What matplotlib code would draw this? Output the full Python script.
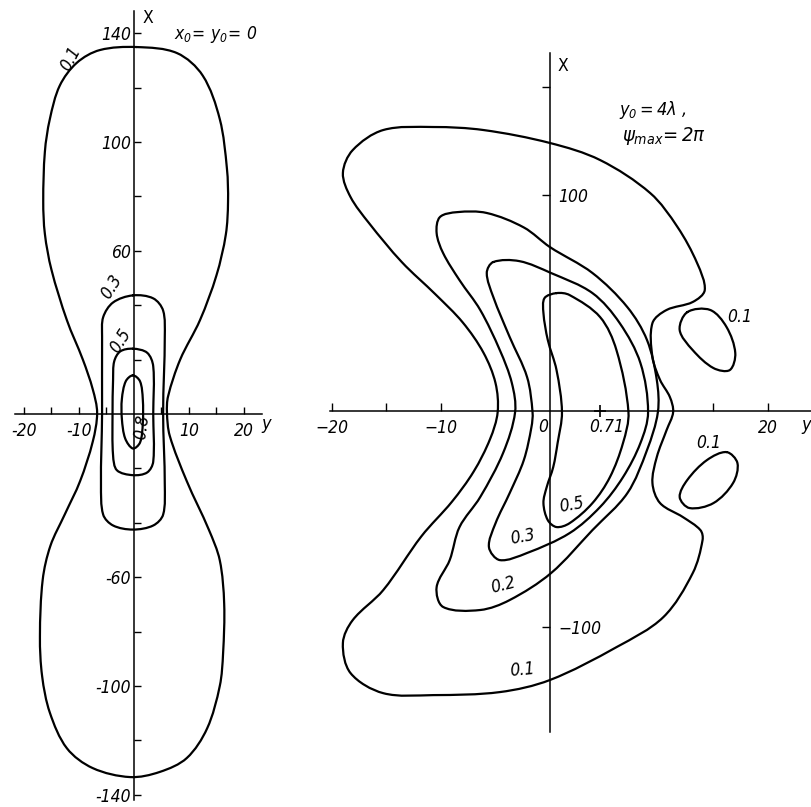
import numpy as np
import matplotlib
matplotlib.use('Agg')
import matplotlib.pyplot as plt
from matplotlib.path import Path
from matplotlib.patches import PathPatch

plt.rcParams['font.family'] = ['DejaVu Sans']
plt.rcParams['font.style'] = 'italic'
plt.rcParams['font.stretch'] = 'condensed'
plt.rcParams['mathtext.fontset'] = 'custom'
plt.rcParams['mathtext.rm'] = 'DejaVu Sans'
plt.rcParams['mathtext.it'] = 'DejaVu Sans:italic'

# ---- left panel, x0 = y0 = 0: contour outlines as (y, x) pairs ----
left_01 = [(0.5, 134.9), (-6.2, 133.8), (-10.4, 129.1), (-13.5, 120.7), (-15.3, 108.4),
           (-16.2, 96.4), (-16.5, 78.2), (-16.2, 66.2), (-15.0, 53.0), (-12.2, 34.5),
           (-9.3, 20.0), (-7.5, 9.1), (-6.7, 0.4), (-7.5, -10.2), (-9.8, -24.7),
           (-12.6, -37.0), (-15.2, -48.5), (-16.6, -61.0), (-17.1, -81.8), (-16.7, -96.4),
           (-15.3, -109.8), (-12.2, -122.9), (-7.5, -130.2), (-0.7, -133.5), (4.7, -131.6),
           (9.6, -126.5), (13.3, -115.6), (15.6, -100.0), (16.2, -88.0), (16.4, -69.8),
           (15.6, -53.8), (13.6, -42.5), (9.6, -24.7), (6.5, -8.0), (6.0, 0.4),
           (6.2, 6.5), (8.4, 20.0), (12.0, 34.5), (15.0, 51.0), (16.7, 66.0),
           (17.1, 78.0), (16.9, 90.2), (15.6, 108.4), (12.5, 124.4), (7.8, 132.7)]
left_03 = [(-0.2, 43.6), (-3.8, 41.0), (-5.6, 35.6), (-5.8, 28.4), (-5.8, 0.0),
           (-6.0, -26.0), (-5.6, -37.0), (-3.8, -41.0), (-0.2, -42.5), (3.5, -41.0),
           (5.3, -37.0), (5.6, -26.0), (5.3, 0.4), (5.6, 28.4), (5.3, 38.0), (3.5, 42.5)]
left_05 = [(-0.2, 24.0), (-2.5, 23.0), (-3.6, 19.3), (-3.8, 12.7), (-3.9, 0.0),
           (-3.8, -15.3), (-3.1, -20.7), (-0.2, -22.5), (2.4, -21.5), (3.5, -17.5),
           (3.5, 0.0), (3.5, 17.5), (2.4, 22.5)]
left_08 = [(-0.2, 14.2), (-1.5, 12.0), (-2.2, 5.5), (-2.2, -1.8), (-1.6, -9.0),
           (-0.2, -12.7), (1.1, -10.5), (1.6, -3.6), (1.6, 5.5), (1.1, 12.0)]
left_levels = ['0.1', '0.3', '0.5', '0.8']
# label position (y, x) and text angle
left_label_pos = [(-11.6, 130.5), (-4.0, 46.9), (-2.5, 26.9), (1.4, -4.6)]
left_label_rot = [62, 58, 58, 82]

# ---- right panel, y0 = 4 lambda, psi_max = 2 pi ----
right_01 = [(0.0, 124.1), (-6.1, 130.1), (-10.7, 131.5), (-15.3, 130.1), (-18.1, 120.8),
            (-19.0, 110.2), (-18.3, 99.1), (-16.6, 87.0), (-13.6, 69.0),
            (-10.5, 54.0), (-8.0, 41.0), (-6.1, 27.0), (-5.0, 13.0), (-4.8, -0.5),
            (-5.5, -13.0), (-7.0, -28.0), (-9.0, -42.0), (-11.8, -58.0),
            (-15.3, -82.9), (-18.1, -96.8), (-19.0, -107.4), (-18.3, -121.3), (-15.3, -130.6),
            (-10.7, -131.5), (-4.6, -130.1), (0.0, -124.5), (6.1, -109.3), (10.4, -95.4),
            (13.1, -75.0), (14.0, -59.7), (13.8, -55.1), (12.2, -49.1), (10.1, -42.6),
            (9.4, -33.3), (9.8, -21.3), (10.7, -8.8), (11.3, -0.5), (11.0, 6.5),
            (10.1, 14.4), (9.4, 25.0), (9.4, 40.7), (10.7, 46.8), (13.1, 50.5),
            (14.2, 56.0), (13.5, 68.5), (11.7, 85.2), (9.2, 100.9), (4.6, 116.2)]
right_01_upper = [(12.6, 45.8), (14.7, 46.8), (16.2, 38.9), (17.0, 26.9),
                  (16.5, 19.0), (15.0, 19.9), (13.1, 28.2), (11.9, 37.5)]
right_01_lower = [(16.2, -19.0), (17.2, -24.1), (16.8, -33.3), (15.0, -42.6),
                  (12.8, -44.9), (11.9, -39.8), (12.6, -31.9), (14.4, -22.7)]
right_02 = [(0.0, 75.9), (3.9, 63.9), (7.1, 48.1), (8.9, 32.9),
            (9.8, 14.4), (9.9, -0.5), (8.9, -18.1), (7.1, -38.0), (3.9, -55.1),
            (0.1, -75.0), (-3.7, -87.5), (-6.4, -92.1), (-9.8, -90.7), (-10.4, -81.5),
            (-9.2, -69.0), (-8.3, -53.7), (-6.4, -39.8), (-4.3, -19.4), (-3.2, -0.5),
            (-3.5, 13.0), (-4.6, 28.2), (-6.4, 46.8), (-8.3, 60.6), (-9.8, 73.1),
            (-10.4, 82.4), (-10.1, 89.8), (-8.5, 92.1), (-5.8, 91.7), (-2.4, 85.0)]
right_03 = [(-5.2, 69.0), (-2.8, 69.4), (0.1, 63.9), (3.9, 54.6), (6.4, 40.7),
            (8.3, 22.2), (9.0, -0.5), (8.3, -14.8), (6.7, -30.6), (4.6, -44.4),
            (1.8, -56.5), (-2.1, -65.7), (-4.6, -69.0), (-5.6, -63.0),
            (-5.0, -52.0), (-3.7, -38.0), (-2.4, -22.7), (-1.7, -7.4), (-1.6, -0.5),
            (-2.1, 15.7), (-3.7, 34.3), (-5.2, 52.8), (-5.8, 63.9)]
right_05 = [(0.6, 54.6), (1.8, 53.7), (4.6, 43.5), (6.1, 28.2), (7.2, -0.5),
            (6.7, -14.8), (5.5, -30.6), (3.9, -42.6), (1.8, -51.9), (0.6, -53.7),
            (-0.2, -50.5), (-0.6, -42.6), (-0.3, -35.2), (0.3, -25.9), (0.7, -14.8),
            (1.1, -0.5), (0.6, 19.0), (-0.2, 32.9), (-0.6, 45.4), (-0.5, 52.3)]
right_labels = ['0.1', '0.1', '0.1', '0.2', '0.3', '0.5']
right_label_pos = [(17.4, 43.5), (14.6, -14.8), (-2.5, -120.0),
                   (-4.3, -80.6), (-2.5, -58.3), (2.0, -43.5)]
right_label_rot = [0, 0, 5, 14, 10, 10]
peak_y, peak_label = 4.6, '0.71'

LW = 1.6
FS = 12.5


def closed_path(points, sx, sy):
    # smooth closed curve through the points; tangents weighted by the
    # on-screen spacing of neighbours to avoid overshoot
    p = np.asarray(points, dtype=float)
    q = p * [sx, sy]
    n = len(p)
    verts = [p[0]]
    codes = [Path.MOVETO]
    for i in range(n):
        i0, i1, i2, i3 = i - 1, i, (i + 1) % n, (i + 2) % n
        d01 = np.hypot(*(q[i1] - q[i0]))
        d12 = np.hypot(*(q[i2] - q[i1]))
        d23 = np.hypot(*(q[i3] - q[i2]))
        m1 = (p[i2] - p[i0]) * d12 / (d01 + d12)
        m2 = (p[i3] - p[i1]) * d12 / (d12 + d23)
        verts += [p[i1] + m1 / 3, p[i2] - m2 / 3, p[i2]]
        codes += [Path.CURVE4] * 3
    return Path(verts, codes)


def draw_contour(ax, points, sx, sy):
    ax.add_patch(PathPatch(closed_path(points, sx, sy), fill=False, lw=LW,
                           edgecolor='black', capstyle='round', joinstyle='round'))


fig = plt.figure(figsize=(8.12, 8.07), dpi=100)

# ---------------- left panel ----------------
axl = fig.add_axes([0, 0, 270 / 812, 1])
axl.set_xlim(-24.36, 24.73)
axl.set_ylim(-144.5, 152.2)
axl.patch.set_alpha(0)
for s in axl.spines.values():
    s.set_linewidth(1.1)
axl.spines['top'].set_visible(False)
axl.spines['right'].set_visible(False)
axl.spines['left'].set_position(('data', 0))
axl.spines['bottom'].set_position(('data', 0))
axl.spines['left'].set_bounds(-142, 148)
axl.spines['bottom'].set_bounds(-21.6, 23.3)
axl.set_xticks([-20, -10, 10, 20])
axl.set_xticks([-15, -5, 5, 15], minor=True)
axl.set_yticks([-140, -100, -60, 60, 100, 140])
axl.set_yticks([-120, -80, -40, -20, 20, 40, 80, 120], minor=True)
axl.set_xticklabels(['-20', '-10', '10', '20'])
axl.set_yticklabels(['-140', '-100', '-60', '60', '100', '140'])
axl.tick_params(axis='both', which='both', direction='in', length=5, width=1.0,
                labelsize=FS)
axl.tick_params(axis='x', pad=6)
axl.tick_params(axis='y', pad=2)

for pts in (left_01, left_03, left_05, left_08):
    draw_contour(axl, pts, 5.5, 2.72)
for txt, (yy, xx), rot in zip(left_levels, left_label_pos, left_label_rot):
    axl.text(yy, xx, txt, rotation=rot, fontsize=FS, ha='center', va='center',
             rotation_mode='anchor')
axl.text(2.6, 145.5, 'X', fontsize=FS, ha='center', va='center', style='normal')
axl.text(24.0, -3.6, 'y', fontsize=13, ha='center', va='center')
axl.text(14.9, 139.5, r'$\mathit{x_0\!=\,y_0\!=\,0}$', fontsize=12.5,
         ha='center', va='center')

# ---------------- right panel ----------------
axr = fig.add_axes([280 / 812, 0, 532 / 812, 1])
axr.set_xlim(-24.77, 24.04)
axr.set_ylim(-183.3, 190.3)
axr.patch.set_alpha(0)
for s in axr.spines.values():
    s.set_linewidth(1.1)
axr.spines['top'].set_visible(False)
axr.spines['left'].set_visible(False)
axr.spines['right'].set_position(('data', 0))
axr.spines['bottom'].set_position(('data', 0))
axr.spines['right'].set_bounds(-148.6, 165.7)
axr.spines['bottom'].set_bounds(-20.2, 24.04)
axr.yaxis.set_ticks_position('right')
axr.set_xticks([-20, -10, 20])
axr.set_xticks([-15, 15], minor=True)
axr.set_xticklabels(['\u221220', '\u221210', '20'])
axr.set_yticks([-100, 100])
axr.set_yticks([150], minor=True)
axr.set_yticklabels(['\u2212100', '100'])
axr.tick_params(axis='both', which='both', direction='in', length=6, width=1.0,
                labelsize=FS)
axr.tick_params(axis='x', pad=6)
axr.tick_params(axis='y', pad=6)

for pts in (right_01, right_01_upper, right_01_lower, right_02, right_03, right_05):
    draw_contour(axr, pts, 10.9, 2.16)
for txt, (yy, xx), rot in zip(right_labels, right_label_pos, right_label_rot):
    axr.text(yy, xx, txt, rotation=rot, fontsize=FS, ha='center', va='center',
             rotation_mode='anchor')

axr.plot([peak_y], [0], marker='+', ms=8, mew=1.2, color='black')
axr.text(peak_y + 0.6, -7.4, peak_label, fontsize=FS, ha='center', va='center')
axr.text(-0.6, -7.4, '0', fontsize=FS, ha='center', va='center')
axr.text(1.2, 159.7, 'X', fontsize=FS, ha='center', va='center', style='normal')
axr.text(23.5, -6.5, 'y', fontsize=13, ha='center', va='center')
axr.text(6.3, 139.4, r'$\mathit{y_0 = 4\lambda\ ,}$', fontsize=13,
         ha='left', va='center')
axr.text(6.6, 127.5, r'$\psi_{\mathit{max}}\!=\mathit{2\pi}$', fontsize=14.5,
         ha='left', va='center')

fig.savefig('out.png', dpi=100, facecolor='white')
